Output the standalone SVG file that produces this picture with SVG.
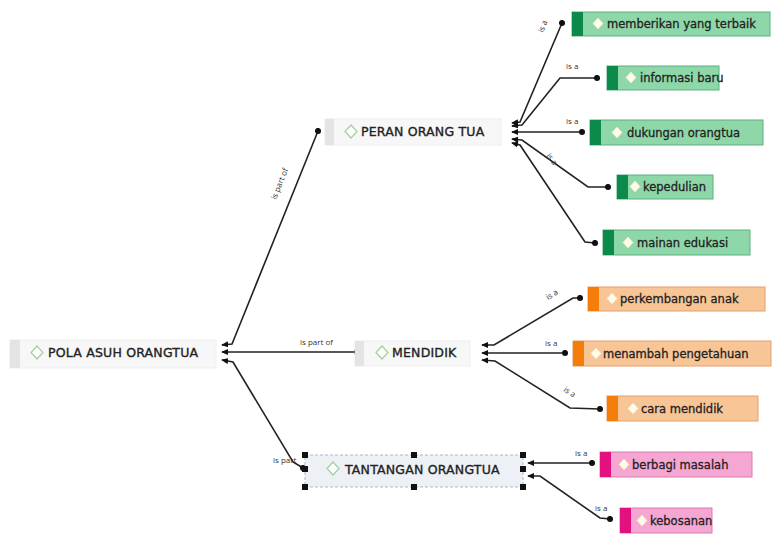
<svg xmlns="http://www.w3.org/2000/svg" width="773" height="534" viewBox="0 0 773 534">
<defs>
<marker id="dot" viewBox="0 0 8 8" refX="4" refY="4" markerWidth="7" markerHeight="7" markerUnits="userSpaceOnUse"><circle cx="4" cy="4" r="3.5" fill="#111"/></marker>
<marker id="tail" viewBox="0 0 8 8" refX="1" refY="4" markerWidth="7" markerHeight="7" markerUnits="userSpaceOnUse" orient="auto"><path d="M8,0.5 L0,4 L8,7.5 Z" fill="#111"/></marker>
</defs>
<style>
text{font-family:"DejaVu Sans","Noto Sans",sans-serif;fill:#222}
.main{font-size:12.5px;letter-spacing:0.2px;stroke:#222;stroke-width:0.35}
.leaf{font-size:11.5px;stroke:#222;stroke-width:0.3}
.lbl{font-size:8px;fill:#333;font-family:"Open Sans","DejaVu Sans",sans-serif}
.con{fill:none;stroke:#222;stroke-width:1.6;marker-end:url(#dot);marker-start:url(#tail)}
.mbox{fill:#f7f7f7;stroke:#eee}
.strip{fill:#e4e4e4}
.dia{fill:#fff;stroke:#9dd19b;stroke-width:1.2}
.g{fill:#8ed7a8;stroke:#5cb07e}
.gs{fill:#0c8a4b}
.o{fill:#f8c597;stroke:#e6a06a}
.os{fill:#f57d0a}
.p{fill:#f6a6d2;stroke:#d77cae}
.ps{fill:#e3117f}
.wd{fill:#fffbe6;stroke:#e8e8d0;stroke-width:0.8}
.h{fill:#111}
</style>

<g id="connectors">
<path class="con" d="M222,345 L232,344 L318,131"/>
<path class="con" d="M222,352 L357,352"/>
<path class="con" d="M222,360 L233,362 L293,462 L303,468"/>
<path class="con" d="M512,123 L520,122 L562,23"/>
<path class="con" d="M512,126 L522,125 L560,78 L597,78"/>
<path class="con" d="M512,132 L582,132"/>
<path class="con" d="M512,139 L522,140 L588,187 L608,187"/>
<path class="con" d="M512,143 L520,145 L585,242 L595,243"/>
<path class="con" d="M482,345 L494,345 L573,298 L580,298"/>
<path class="con" d="M482,353 L565,353"/>
<path class="con" d="M482,360 L495,361 L570,408 L600,409"/>
<path class="con" d="M528,463 L592,463"/>
<path class="con" d="M528,476 L540,476 L600,518 L610,519"/>
<text class="lbl" transform="translate(276,200) rotate(-68)">is part of</text>
<text class="lbl" x="300" y="345">is part of</text>
<text class="lbl" x="273" y="463">is part</text>
<text class="lbl" transform="translate(543,33) rotate(-68)">is a</text>
<text class="lbl" x="566" y="69">is a</text>
<text class="lbl" x="566" y="124">is a</text>
<text class="lbl" transform="translate(546,156) rotate(52)">is a</text>
<text class="lbl" transform="translate(548,300) rotate(-30)">is a</text>
<text class="lbl" x="545" y="346">is a</text>
<text class="lbl" transform="translate(563,391) rotate(32)">is a</text>
<text class="lbl" x="575" y="456">is a</text>
<text class="lbl" x="595" y="511">is a</text>
</g>

<g id="node-pola">
<rect class="mbox" x="10" y="340" width="206" height="28"/>
<rect class="strip" x="10" y="340" width="10" height="28"/>
<path class="dia" d="M37,346 L43,352.5 L37,359 L31,352.5 Z"/>
<text class="main" x="48" y="357">POLA ASUH ORANGTUA</text>
</g>

<g id="node-peran">
<rect class="mbox" x="325" y="119" width="176" height="26"/>
<rect class="strip" x="325" y="119" width="9" height="26"/>
<path class="dia" d="M351,125 L357,131.5 L351,138 L345,131.5 Z"/>
<text class="main" x="361" y="136">PERAN ORANG TUA</text>
</g>

<g id="node-mendidik">
<rect class="mbox" x="355" y="341" width="115" height="25"/>
<rect class="strip" x="355" y="341" width="9" height="25"/>
<path class="dia" d="M382,346 L388,352.5 L382,359 L376,352.5 Z"/>
<text class="main" x="392" y="357">MENDIDIK</text>
</g>

<g id="node-tantangan">
<rect x="305" y="455" width="218" height="32" fill="#edf1f6" stroke="#a9b9cf" stroke-dasharray="3,2"/>
<path class="dia" d="M333,462 L339,468.5 L333,475 L327,468.5 Z"/>
<text class="main" x="345" y="473.5">TANTANGAN ORANGTUA</text>
<rect class="h" x="302" y="452" width="6" height="6"/>
<rect class="h" x="411" y="452" width="6" height="6"/>
<rect class="h" x="520" y="452" width="6" height="6"/>
<rect class="h" x="302" y="466" width="6" height="6"/>
<rect class="h" x="520" y="466" width="6" height="6"/>
<rect class="h" x="302" y="484" width="6" height="6"/>
<rect class="h" x="411" y="484" width="6" height="6"/>
<rect class="h" x="520" y="484" width="6" height="6"/>
</g>

<g id="node-memberikan">
<rect class="g" x="572" y="12" width="198" height="24"/>
<rect class="gs" x="572" y="12" width="11" height="24"/>
<path class="wd" d="M598,18 L603,23.5 L598,29 L593,23.5 Z"/>
<text class="leaf" x="607" y="28">memberikan yang terbaik</text>
</g>

<g id="node-informasi">
<rect class="g" x="607" y="66" width="112" height="24"/>
<rect class="gs" x="607" y="66" width="11" height="24"/>
<path class="wd" d="M631,72 L636,77.5 L631,83 L626,77.5 Z"/>
<text class="leaf" x="640" y="82">informasi baru</text>
</g>

<g id="node-dukungan">
<rect class="g" x="590" y="120" width="173" height="25"/>
<rect class="gs" x="590" y="120" width="11" height="25"/>
<path class="wd" d="M617,127 L622,132.5 L617,138 L612,132.5 Z"/>
<text class="leaf" x="627" y="137">dukungan orangtua</text>
</g>

<g id="node-kepedulian">
<rect class="g" x="617" y="175" width="96" height="24"/>
<rect class="gs" x="617" y="175" width="11" height="24"/>
<path class="wd" d="M635,181 L640,186.5 L635,192 L630,186.5 Z"/>
<text class="leaf" x="643" y="191">kepedulian</text>
</g>

<g id="node-mainan">
<rect class="g" x="603" y="230" width="147" height="25"/>
<rect class="gs" x="603" y="230" width="11" height="25"/>
<path class="wd" d="M628,237 L633,242.5 L628,248 L623,242.5 Z"/>
<text class="leaf" x="637" y="247">mainan edukasi</text>
</g>

<g id="node-perkembangan">
<rect class="o" x="588" y="287" width="177" height="24"/>
<rect class="os" x="588" y="287" width="11" height="24"/>
<path class="wd" d="M612,293 L617,298.5 L612,304 L607,298.5 Z"/>
<text class="leaf" x="620" y="303">perkembangan anak</text>
</g>

<g id="node-menambah">
<rect class="o" x="573" y="341" width="198" height="25"/>
<rect class="os" x="573" y="341" width="11" height="25"/>
<path class="wd" d="M596,348 L601,353.5 L596,359 L591,353.5 Z"/>
<text class="leaf" x="603" y="358">menambah pengetahuan</text>
</g>

<g id="node-cara">
<rect class="o" x="607" y="396" width="151" height="25"/>
<rect class="os" x="607" y="396" width="11" height="25"/>
<path class="wd" d="M633,403 L638,408.5 L633,414 L628,408.5 Z"/>
<text class="leaf" x="641" y="413">cara mendidik</text>
</g>

<g id="node-berbagi">
<rect class="p" x="600" y="452" width="152" height="25"/>
<rect class="ps" x="600" y="452" width="11" height="25"/>
<path class="wd" d="M624,459 L629,464.5 L624,470 L619,464.5 Z"/>
<text class="leaf" x="632" y="469">berbagi masalah</text>
</g>

<g id="node-kebosanan">
<rect class="p" x="620" y="508" width="92" height="25"/>
<rect class="ps" x="620" y="508" width="11" height="25"/>
<path class="wd" d="M642,515 L647,520.5 L642,526 L637,520.5 Z"/>
<text class="leaf" x="650" y="525">kebosanan</text>
</g>
</svg>
